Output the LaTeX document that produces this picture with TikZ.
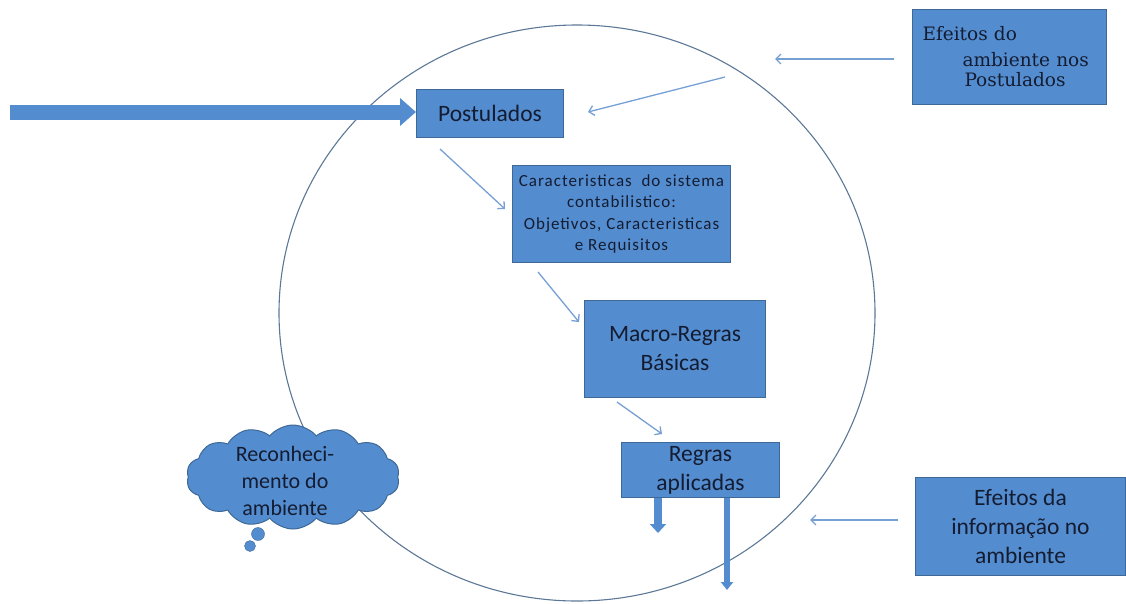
\documentclass[tikz,border=0pt]{standalone}
\usepackage{fontspec}
\setmainfont{Carlito}
\newfontfamily\bookfont{DejaVu Serif}
\usetikzlibrary{arrows.meta,shapes.symbols}
\definecolor{boxblue}{RGB}{84,141,207}
\definecolor{boxedge}{RGB}{62,104,150}
\definecolor{lineblue}{RGB}{118,160,212}
\definecolor{ringgrey}{RGB}{92,120,150}
\definecolor{inkblue}{RGB}{20,28,50}
\tikzset{
  box/.style={draw=boxedge, fill=boxblue, line width=1pt, text=inkblue,
    anchor=north west, inner sep=0pt, align=center,
    font=\fontsize{23.5}{29}\selectfont},
  flow/.style={draw=lineblue, line width=1.3pt, -{Straight Barb[length=5pt,width=10pt]}},
  fat/.style={draw=boxblue, line width=#1}
}

\begin{document}
\begin{tikzpicture}[x=1pt,y=-1pt]
\useasboundingbox (0,0) rectangle (1126,603);
\draw[ringgrey, line width=1.1pt] (577,313) ellipse [x radius=298pt, y radius=288pt];

\node[box, minimum width=147pt, minimum height=48pt] (post) at (416,89) {Postulados};
\node[box, minimum width=218pt, minimum height=97pt,
  font=\fontsize{17}{21.5}\selectfont\addfontfeature{LetterSpace=6}] (char) at (512,165)
  {Caracteristicas\ \ do sistema\\contabilistico:\\Objetivos, Caracteristicas\\e Requisitos};
\node[box, minimum width=181pt, minimum height=97pt] (macro) at (584,300) {Macro-Regras\\Básicas};
\node[box, minimum width=158pt, minimum height=55pt] (regras) at (621,442) {Regras\\aplicadas};
\node[box, minimum width=194pt, minimum height=95pt, text width=174pt, align=left,
  font=\bookfont\fontsize{18.5}{20}\selectfont] (ambpost) at (912,9)
  {Efeitos do\\[6pt]\hspace*{40pt}ambiente nos\\[0pt]\hspace*{42pt}Postulados};
\node[box, minimum width=210pt, minimum height=98pt] (info) at (915,477) {Efeitos da\\informação no\\ambiente};

\node[cloud, cloud puffs=14, cloud puff arc=100, draw=boxedge, fill=boxblue, line width=1pt,
  minimum width=213pt, minimum height=104pt, inner sep=0pt] (recog) at (293,477) {};
\node[text=inkblue, align=center, font=\fontsize{22}{27}\selectfont] (recogtxt) at (285,481)
  {Reconheci-\\mento do\\ambiente};
\filldraw[fill=boxblue, draw=boxedge] (258,534) circle (6.5pt) (250,546) circle (5.5pt);

\coordinate (src) at (10,112);
\draw[fat=15pt, -{Triangle[length=16pt,width=27pt]}] (src) -- (post.west |- src);

\coordinate (outa) at (658,533);
\coordinate (outb) at (727,590);
\draw[fat=8pt, -{Triangle[length=9pt,width=16pt]}] (regras.south -| outa) -- (outa);
\draw[fat=6pt, -{Triangle[length=8pt,width=12pt]}] (regras.south -| outb) -- (outb);

\coordinate (p1s) at (440,149); \coordinate (p1e) at (505,209);
\coordinate (p2s) at (538,272); \coordinate (p2e) at (579,322);
\coordinate (p3s) at (617,402); \coordinate (p3e) at (662,434);
\coordinate (p4s) at (725,77);  \coordinate (p4e) at (588,112);
\coordinate (p5s) at (894,59);  \coordinate (p5e) at (775,59);
\coordinate (p6s) at (898,520); \coordinate (p6e) at (810,520);
\draw[flow] (p1s) -- (p1e);
\draw[flow] (p2s) -- (p2e);
\draw[flow] (p3s) -- (p3e);
\draw[flow] (p4s) -- (p4e);
\draw[flow] (p5s) -- (p5e);
\draw[flow] (p6s) -- (p6e);
\end{tikzpicture}
\end{document}
